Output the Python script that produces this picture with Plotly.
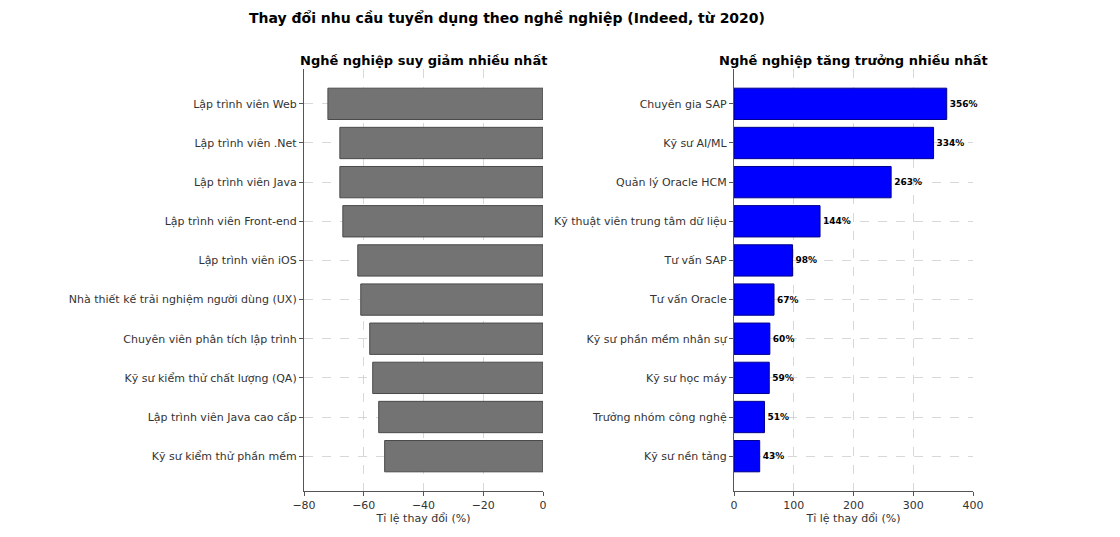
import plotly.graph_objects as go

# Data
decline_jobs = [
    "Lập trình viên Web", "Lập trình viên .Net", "Lập trình viên Java",
    "Lập trình viên Front-end", "Lập trình viên iOS",
    "Nhà thiết kế trải nghiệm người dùng (UX)", "Chuyên viên phân tích lập trình",
    "Kỹ sư kiểm thử chất lượng (QA)", "Lập trình viên Java cao cấp",
    "Kỹ sư kiểm thử phần mềm",
]
decline_values = [-72, -68, -68, -67, -62, -61, -58, -57, -55, -53]

growth_jobs = [
    "Chuyên gia SAP", "Kỹ sư AI/ML", "Quản lý Oracle HCM",
    "Kỹ thuật viên trung tâm dữ liệu", "Tư vấn SAP", "Tư vấn Oracle",
    "Kỹ sư phần mềm nhân sự", "Kỹ sư học máy", "Trưởng nhóm công nghệ",
    "Kỹ sư nền tảng",
]
growth_values = [356, 334, 263, 144, 98, 67, 60, 59, 51, 43]

left_ticks = [-80, -60, -40, -20, 0]
right_ticks = [0, 100, 200, 300, 400]

OFF = 8  # body margin of the html page
W, H = 1120 - 2 * OFF, 537 - 2 * OFF
FONT = "DejaVu Sans"

def px(x):
    return (x - OFF) / W

def py(y):
    return 1 - (y - OFF) / H

fig = go.Figure()
fig.add_trace(go.Bar(
    y=decline_jobs, x=decline_values, orientation="h", width=0.8,
    marker=dict(color="#737373", line=dict(color="#4a4a4a", width=1)),
    xaxis="x", yaxis="y", showlegend=False,
))
fig.add_trace(go.Bar(
    y=growth_jobs, x=growth_values, orientation="h", width=0.8,
    marker=dict(color="#0000ff", line=dict(color="#00008b", width=1)),
    text=[f"{v}%" for v in growth_values], textposition="outside",
    textfont=dict(family=FONT, size=9, color="black", weight="bold"),
    cliponaxis=False,
    xaxis="x2", yaxis="y2", showlegend=False,
))

def xax(domain, rng, ticks, anchor):
    return dict(
        domain=domain, range=rng, tickvals=ticks, anchor=anchor,
        automargin=False,
        showline=True, linecolor="#555555", linewidth=1.2,
        ticks="outside", ticklen=4, tickcolor="#555555",
        showgrid=True, gridcolor="rgba(190,190,190,0.6)", griddash="dash", gridwidth=0.8,
        zeroline=False, layer="above traces",
        tickfont=dict(family=FONT, size=11, color="#333333"),
        title=dict(text="Tỉ lệ thay đổi (%)", font=dict(family=FONT, size=11, color="#333333"), standoff=3),
    )

def yax(domain, anchor):
    return dict(
        domain=domain, anchor=anchor, type="category", range=[9.89, -0.89],
        automargin=False,
        showline=True, linecolor="#555555", linewidth=1.2,
        ticks="outside", ticklen=4, tickcolor="#555555",
        showgrid=True, gridcolor="rgba(190,190,190,0.6)", griddash="dash", gridwidth=0.8,
        zeroline=False, layer="above traces",
        tickfont=dict(family=FONT, size=11, color="#333333"),
    )

xl = [px(304), px(543)]
xr = [px(734), px(973)]
yd = [py(491), py(69)]

fig.update_layout(
    template="none",
    width=W, height=H,
    margin=dict(l=0, r=0, t=0, b=0, pad=0),
    paper_bgcolor="white", plot_bgcolor="white",
    font=dict(family=FONT),
    bargap=0.2,
    xaxis=xax(xl, [-80, 0], left_ticks, "y"),
    yaxis=yax(yd, "x"),
    xaxis2=xax(xr, [0, 400], right_ticks, "y2"),
    yaxis2=yax(yd, "x2"),
    annotations=[
        dict(text="<b>Thay đổi nhu cầu tuyển dụng theo nghề nghiệp (Indeed, từ 2020)</b>",
             x=px(507), y=py(18), xref="paper", yref="paper",
             xanchor="center", yanchor="middle", showarrow=False,
             font=dict(family=FONT, size=14, color="black")),
        dict(text="<b>Nghề nghiệp suy giảm nhiều nhất</b>",
             x=(xl[0] + xl[1]) / 2, y=py(60), xref="paper", yref="paper",
             xanchor="center", yanchor="middle", showarrow=False,
             font=dict(family=FONT, size=13, color="black")),
        dict(text="<b>Nghề nghiệp tăng trưởng nhiều nhất</b>",
             x=(xr[0] + xr[1]) / 2, y=py(60), xref="paper", yref="paper",
             xanchor="center", yanchor="middle", showarrow=False,
             font=dict(family=FONT, size=13, color="black")),
    ],
)

fig.write_html("out.html")
